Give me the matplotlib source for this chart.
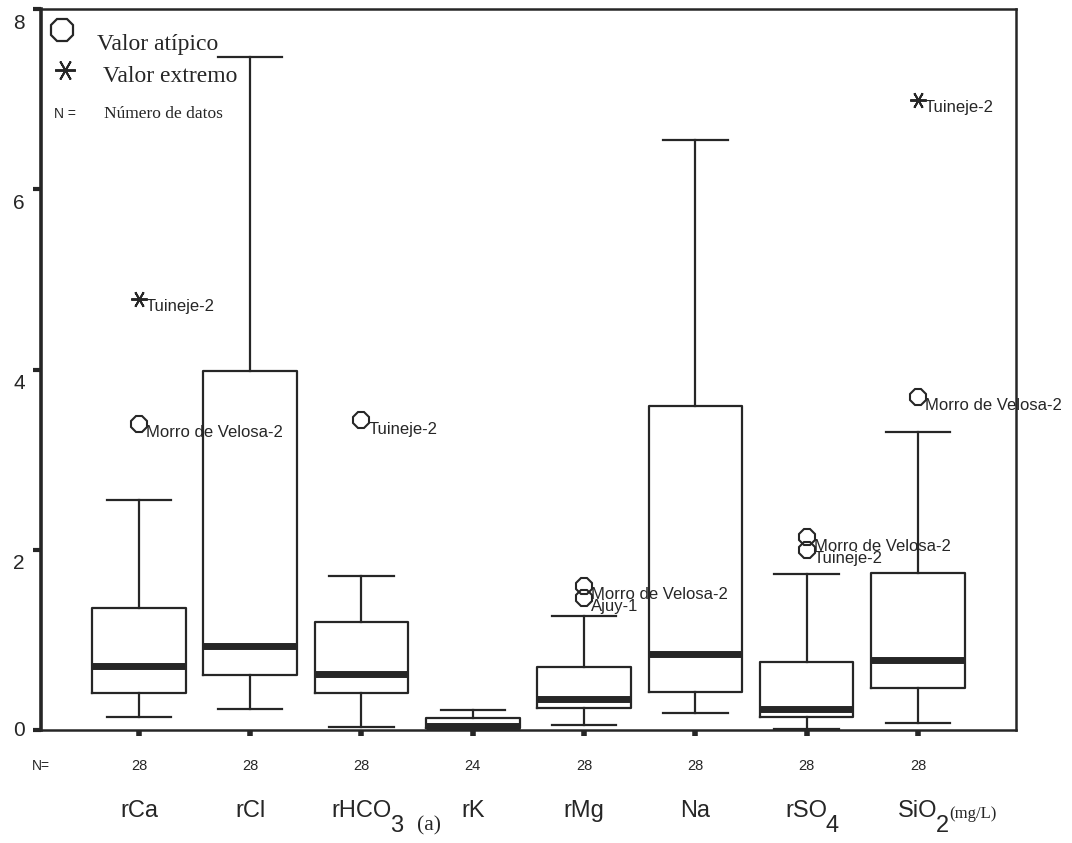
import matplotlib
matplotlib.use("Agg")
import matplotlib.pyplot as plt

# ---- datos (meq/L, SiO2 en mg/L) ----
categorias = ["rCa", "rCl", "rHCO", "rK", "rMg", "Na", "rSO", "SiO"]
subindices = ["", "", "3", "", "", "", "4", "2"]
n_datos = [28, 28, 28, 24, 28, 28, 28, 28]

q1 = [0.41, 0.61, 0.41, 0.02, 0.24, 0.42, 0.15, 0.47]
mediana = [0.71, 0.93, 0.62, 0.05, 0.34, 0.84, 0.23, 0.78]
q3 = [1.35, 3.98, 1.20, 0.13, 0.70, 3.59, 0.76, 1.74]
bigote_inf = [0.14, 0.23, 0.03, 0.01, 0.06, 0.19, 0.01, 0.08]
bigote_sup = [2.55, 7.47, 1.71, 0.22, 1.27, 6.55, 1.73, 3.31]

# valores atípicos (círculos) y extremos (asteriscos)
atip_cat = [0, 2, 4, 4, 6, 6, 7]
atip_val = [3.40, 3.44, 1.60, 1.47, 2.14, 2.00, 3.70]
atip_txt = ["Morro de Velosa-2", "Tuineje-2", "Morro de Velosa-2", "Ajuy-1",
            "Morro de Velosa-2", "Tuineje-2", "Morro de Velosa-2"]
ext_cat = [0, 7]
ext_val = [4.78, 6.99]
ext_txt = ["Tuineje-2", "Tuineje-2"]

y_ticks = [0, 2, 4, 6, 8]

# ---- estilo ----
C = "#262626"
SANS = "Liberation Sans"
SERIF = "Liberation Serif"
ASTER = (6, 2, 90)

fig = plt.figure(figsize=(10.72, 8.43), dpi=100)
ax = fig.add_axes([0.0382, 0.134, 0.9095, 0.8553])

pos = list(range(1, len(categorias) + 1))
stats = []
for i in range(len(categorias)):
    stats.append(dict(med=mediana[i], q1=q1[i], q3=q3[i],
                      whislo=bigote_inf[i], whishi=bigote_sup[i], fliers=[]))

ax.bxp(stats, positions=pos, widths=0.84, capwidths=0.58, showfliers=False,
       boxprops=dict(color=C, lw=1.6),
       whiskerprops=dict(color=C, lw=1.6),
       capprops=dict(color=C, lw=1.6),
       medianprops=dict(color=C, lw=5, solid_capstyle="butt"))

# atípicos y extremos con su etiqueta
for c, v, t in zip(atip_cat, atip_val, atip_txt):
    ax.plot(pos[c], v, marker="8", ms=13, mfc="none", mec=C, mew=1.5,
            clip_on=False)
    ax.annotate(t, (pos[c], v), xytext=(7, -9), textcoords="offset pixels",
                ha="left", va="center", fontsize=12, family=SANS, color=C)
for c, v, t in zip(ext_cat, ext_val, ext_txt):
    ax.plot(pos[c], v, marker=ASTER, ms=12, color=C, mew=1.4)
    ax.annotate(t, (pos[c], v), xytext=(7, -7), textcoords="offset pixels",
                ha="left", va="center", fontsize=12, family=SANS, color=C)

# ---- ejes ----
ax.set_xlim(0.12, 8.88)
ax.set_ylim(0, 7.97)
for s in ax.spines.values():
    s.set_color(C)
    s.set_linewidth(1.8)
ax.spines["left"].set_linewidth(2.6)

ax.set_yticks(y_ticks)
ax.set_xticks(pos)
ax.tick_params(axis="y", length=6, width=3, color=C, labelleft=False)
ax.tick_params(axis="x", length=4, width=4, color=C, labelbottom=False)

for v in y_ticks:
    dy = 0 if v == 0 else -14
    ax.annotate(str(v), (0, v), xycoords=ax.get_yaxis_transform(),
                xytext=(-16, dy), textcoords="offset pixels",
                ha="right", va="center", fontsize=15, family=SANS, color=C)

# fila de N y nombres de las variables
tr = ax.get_xaxis_transform()
ax.text(0.0, -0.055, "N=", transform=ax.transAxes, ha="center", va="baseline",
        fontsize=10, family=SANS, color=C)
for p, n in zip(pos, n_datos):
    ax.text(p, -0.055, str(n), transform=tr, ha="center", va="baseline",
            fontsize=10.5, family=SANS, color=C)

for p, nom, sub in zip(pos, categorias, subindices):
    t = ax.text(p, -0.1207, nom, transform=tr, ha="center", va="baseline",
                fontsize=17, family=SANS, color=C)
    if sub:
        s = ax.annotate(sub, (1, 0), xycoords=t, xytext=(-2, -10),
                        textcoords="offset pixels", ha="left", va="baseline",
                        fontsize=17, family=SANS, color=C)
        if nom == "SiO":
            ax.annotate("(mg/L)", (1, 1), xycoords=s, xytext=(0, 9),
                        textcoords="offset pixels", ha="left", va="top",
                        fontsize=12, family=SERIF, color=C)

fig.text(0.400, 0.020, "(a)", ha="center", va="center", fontsize=15.5,
         family=SERIF, color=C)

# ---- leyenda ----
ax.plot(0.0215, 0.971, marker="8", ms=17, mfc="none", mec=C, mew=1.6,
        transform=ax.transAxes)
ax.text(0.0574, 0.943, "Valor atípico", transform=ax.transAxes,
        va="baseline", fontsize=17, family=SERIF, color=C)
ax.plot(0.0246, 0.915, marker=ASTER, ms=15, color=C, mew=1.4,
        transform=ax.transAxes)
ax.text(0.0636, 0.899, "Valor extremo", transform=ax.transAxes,
        va="baseline", fontsize=17, family=SERIF, color=C)
ax.text(0.0133, 0.849, "N =", transform=ax.transAxes, va="baseline",
        fontsize=10, family=SANS, color=C)
ax.text(0.0646, 0.849, "Número de datos", transform=ax.transAxes,
        va="baseline", fontsize=12.5, family=SERIF, color=C)

fig.savefig("out.png", dpi=100, facecolor="white")
